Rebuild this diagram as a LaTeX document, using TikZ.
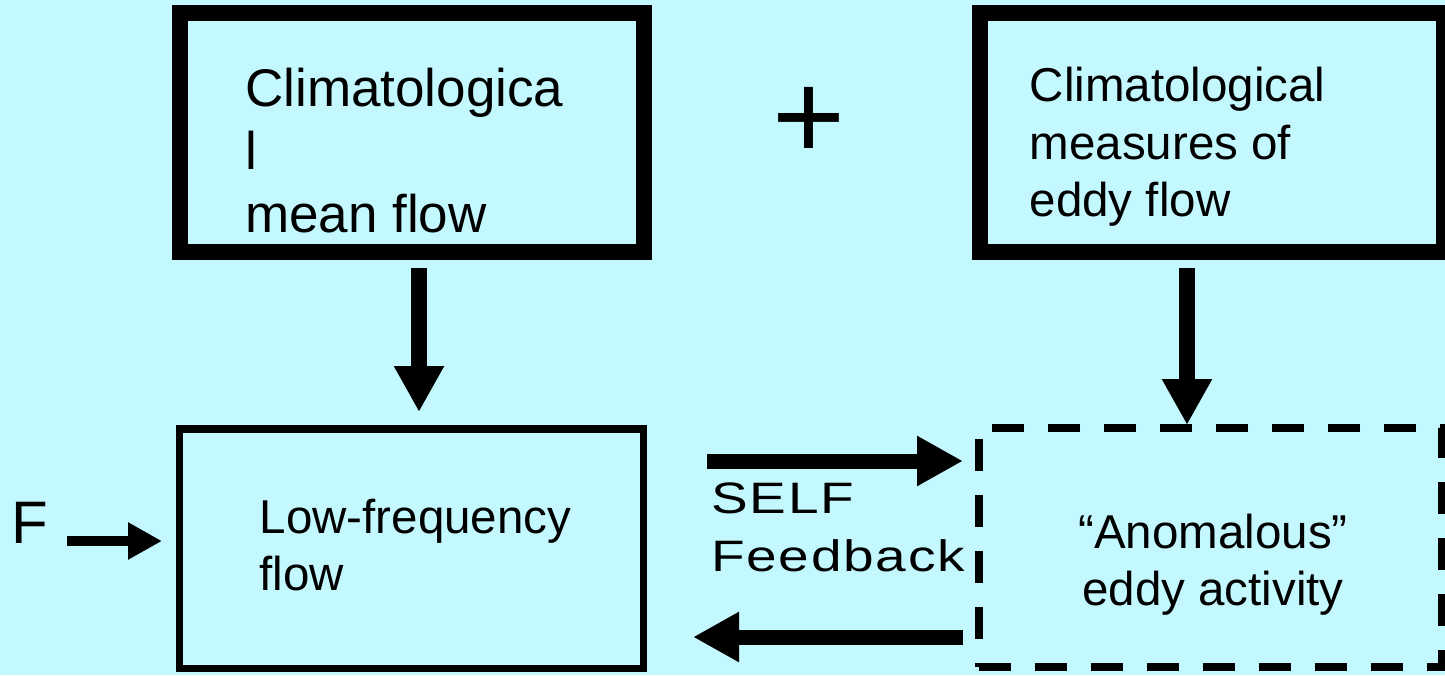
\documentclass[tikz,border=0pt]{standalone}
\usepackage{fontspec}
\setmainfont{Liberation Sans}
\newfontfamily\widefont[FakeStretch=1.25,LetterSpace=4]{Liberation Sans}
\usetikzlibrary{arrows.meta}
\definecolor{bgcyan}{HTML}{C3F8FF}
\tikzset{
  thickbox/.style={draw=black,line width=16pt,fill=bgcyan,inner sep=0pt,rectangle},
  thinbox/.style={draw=black,line width=7.5pt,fill=bgcyan,inner sep=0pt,rectangle},
  dashbox/.style={draw=black,line width=8pt,dash pattern=on 32pt off 24pt,fill=bgcyan,inner sep=0pt,rectangle},
  txt/.style={inner sep=0pt,anchor=north west,align=left},
  downarrow/.style={line width=16pt,-{Triangle[width=47pt,length=46pt]}},
  sidearrow/.style={line width=15pt,-{Triangle[width=47pt,length=46pt]}},
  farrow/.style={line width=10pt,-{Triangle[width=35pt,length=34pt]}}
}
\begin{document}
\begin{tikzpicture}[x=1pt,y=-1pt]
\fill[bgcyan] (0,0) rectangle (1445,675);
\useasboundingbox (0,0) rectangle (1445,675);

% boxes
\node[thickbox,minimum width=464pt,minimum height=239pt] (b1) at (411.5,132.5) {};
\node[thickbox,minimum width=464.5pt,minimum height=239pt] (b2) at (1211.75,132.5) {};
\node[thinbox,minimum width=464pt,minimum height=239.5pt] (b3) at (411.5,548.75) {};
\node[dashbox,minimum width=463pt,minimum height=239pt] (b4) at (1210.5,547.5) {};

% texts
\node[txt,font=\fontsize{53}{63}\selectfont] (t1) at (245,68) {Climatologica\\l\\mean flow};
\node[txt,font=\fontsize{47.5}{57.5}\selectfont] (t2) at (1029.5,67) {Climatological\\measures of\\eddy flow};
\node[txt,font=\fontsize{47.5}{57}\selectfont] (t3) at (259.5,499) {Low-frequency\\flow};
\node[inner sep=0pt,anchor=north,align=center,font=\fontsize{47.5}{57}\selectfont] (t4) at (1213,514) {“Anomalous”\\eddy activity};
\node[txt,font=\widefont\fontsize{44}{58}\selectfont] (self) at (711,483) {SELF\\Feedback};
\node[inner sep=0pt,anchor=base,font=\fontsize{125}{130}\selectfont] (plus) at (809,159) {+};
\node[txt,font=\fontsize{60}{70}\selectfont] (F) at (11,502) {F};

% arrows
\draw[downarrow,shorten <=8pt,shorten >=13.25pt] ([xshift=7.5pt]b1.south) -- ([xshift=7.5pt]b1.south |- b3.north);
\draw[downarrow,shorten <=8pt,shorten >=-1pt] ([xshift=-24.75pt]b2.south) -- ([xshift=-24.75pt]b2.south |- b4.north);
\draw[sidearrow,shorten <=59.75pt,shorten >=12pt] ([yshift=87.75pt]b3.east) -- ([yshift=87.75pt]b3.east -| b4.west);
\draw[sidearrow,shorten <=12pt,shorten >=45.75pt] ([yshift=-88.25pt]b3.east -| b4.west) -- ([yshift=-88.25pt]b3.east);
\coordinate (fa) at ([yshift=7.75pt]b3.west);
\draw[farrow,shorten <=19.3pt,shorten >=13.75pt] (F.east |- fa) -- (fa);
\end{tikzpicture}
\end{document}
